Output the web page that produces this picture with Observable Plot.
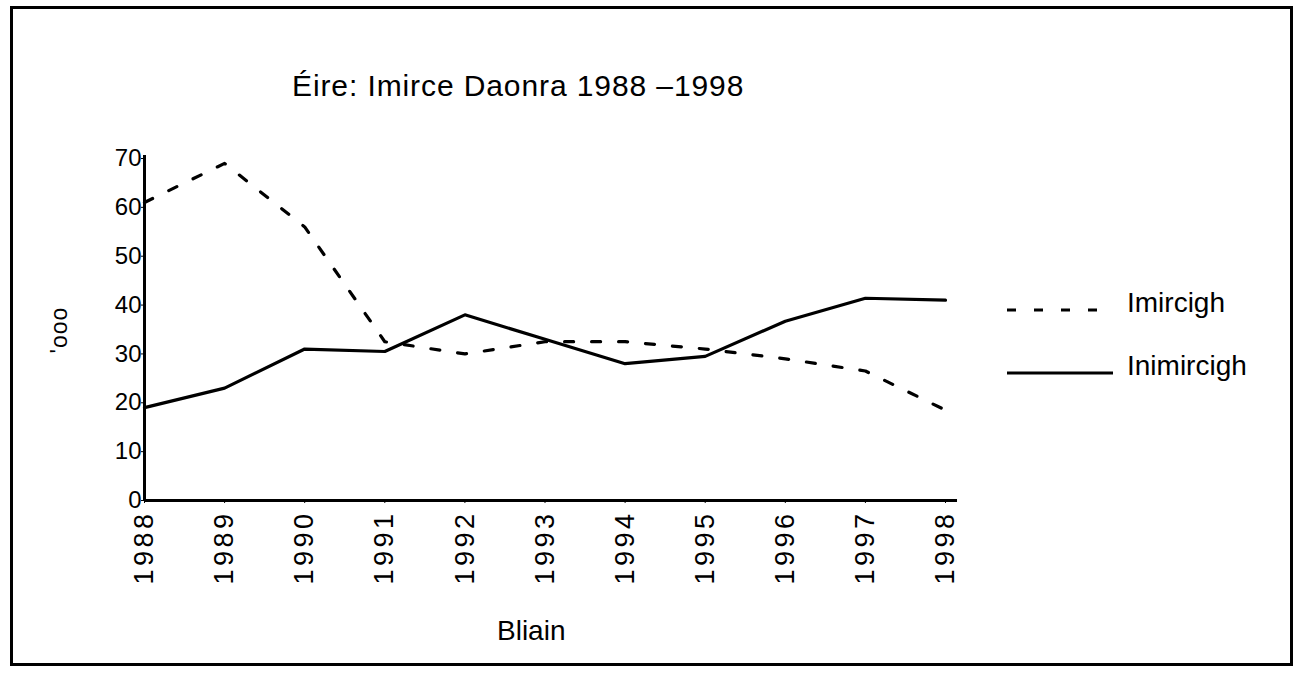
<!DOCTYPE html>
<html><head><meta charset="utf-8">
<script src="https://cdn.jsdelivr.net/npm/d3@7"></script>
<script src="https://cdn.jsdelivr.net/npm/@observablehq/plot@0.6"></script>
<style>
html,body{margin:0;padding:0;background:#fff;}
body{font-family:"Liberation Sans",Arial,sans-serif;color:#000;}
#wrap{position:relative;width:1300px;height:673px;overflow:hidden;}
#frame{position:absolute;left:10px;top:6px;width:1283px;height:660px;border:3px solid #000;box-sizing:border-box;pointer-events:none;}
#chart{position:absolute;left:0;top:0;}
#chart g[aria-label="x-axis tick label"] text{letter-spacing:3.5px;}
.t{position:absolute;white-space:nowrap;line-height:1;}
#title{left:292px;top:71px;font-size:30px;letter-spacing:0.9px;}
#xlabel{left:497px;top:617px;font-size:28px;}
#ylabel{left:59px;top:330px;font-size:23px;letter-spacing:1px;transform:translate(-50%,-50%) rotate(-90deg);}
.leg{position:absolute;left:1005px;width:300px;height:40px;}
.leg svg{position:absolute;left:0;top:0;}
.leg span{position:absolute;left:122px;top:0;font-size:28px;line-height:1;}
</style>
</head><body>
<div id="wrap">
  <div id="chart"></div>
  <div class="t" id="title">Éire: Imirce Daonra 1988 –1998</div>
  <div class="t" id="xlabel">Bliain</div>
  <div class="t" id="ylabel">'ooo</div>
  <div class="leg" id="leg1" style="top:289px"></div>
  <div class="leg" id="leg2" style="top:352px"></div>
  <div id="frame"></div>
</div>
<script>
const years = [1988, 1989, 1990, 1991, 1992, 1993, 1994, 1995, 1996, 1997, 1998];
const imircigh = [61, 69, 56, 32.5, 30, 32.5, 32.5, 31, 29, 26.5, 18.5];
const inimircigh = [19, 23, 31, 30.5, 38, 33, 28, 29.5, 36.7, 41.4, 41];
const yTicks = [0, 10, 20, 30, 40, 50, 60, 70];
const seriesNames = ["Imircigh", "Inimircigh"];
const dashStyle = "9,18";

const rows = [];
years.forEach((y, i) => {
  rows.push({year: y, value: imircigh[i], series: seriesNames[0]});
  rows.push({year: y, value: inimircigh[i], series: seriesNames[1]});
});

const chart = Plot.plot({
  width: 1300,
  height: 673,
  marginLeft: 144,
  marginRight: 355,
  marginTop: 158,
  marginBottom: 173,
  style: {fontFamily: "'Liberation Sans', Arial, sans-serif", color: "#000", background: "transparent"},
  x: {domain: [years[0], years[years.length - 1]], label: null},
  y: {domain: [0, 70], label: null},
  marks: [
    Plot.axisY({ticks: yTicks, tickSize: 3, tickPadding: 0, fontSize: 24, label: null}),
    Plot.axisX({ticks: years, tickFormat: d => String(d), tickRotate: -90, tickSize: 3, tickPadding: 7, fontSize: 27, label: null}),
    Plot.ruleX([years[0]], {y1: 0, y2: 70.6, stroke: "#000", strokeWidth: 3}),
    Plot.ruleY([0], {x1: years[0], x2: 1998.15, stroke: "#000", strokeWidth: 3}),
    Plot.line(rows.filter(d => d.series === seriesNames[0]), {x: "year", y: "value", stroke: "#000", strokeWidth: 3.2, strokeDasharray: dashStyle}),
    Plot.line(rows.filter(d => d.series === seriesNames[1]), {x: "year", y: "value", stroke: "#000", strokeWidth: 3.2})
  ]
});
document.getElementById("chart").appendChild(chart);

function legend(id, name, dash) {
  const el = document.getElementById(id);
  const svg = d3.create("svg").attr("width", 120).attr("height", 40);
  svg.append("line").attr("x1", 2).attr("x2", dash ? 100 : 108).attr("y1", 21).attr("y2", 21)
    .attr("stroke", "#000").attr("stroke-width", 3.2).attr("stroke-dasharray", dash || null);
  el.appendChild(svg.node());
  const s = document.createElement("span");
  s.textContent = name;
  el.appendChild(s);
}
legend("leg1", seriesNames[0], dashStyle);
legend("leg2", seriesNames[1], null);
</script>
</body></html>
